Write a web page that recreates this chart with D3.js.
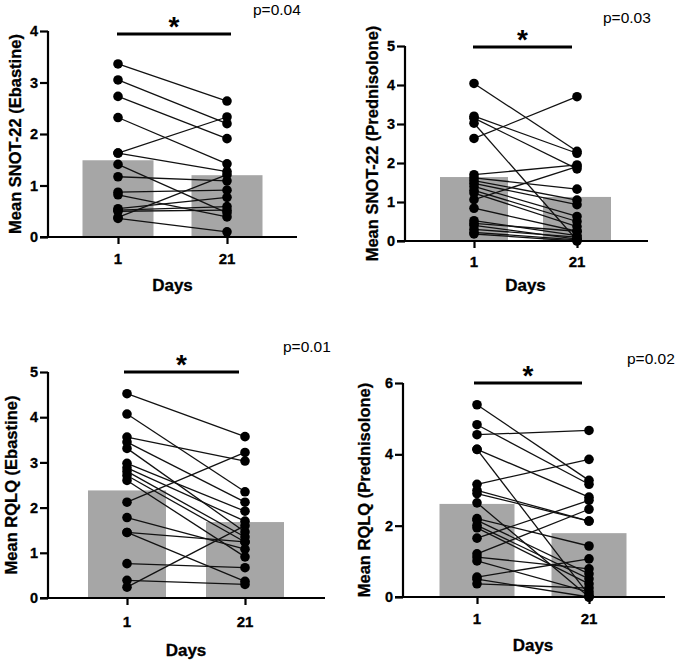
<!DOCTYPE html>
<html>
<head>
<meta charset="utf-8">
<script src="https://cdn.jsdelivr.net/npm/d3@7"></script>
<style>
  body { margin: 0; background: #fff; }
  svg { font-family: "Liberation Sans", Arial, sans-serif; }
</style>
</head>
<body>
<div id="chart"></div>
<script>
const days = ["1", "21"];

// SNOT-22, Ebastine (paired per patient)
const snotEbDay1  = [3.36, 3.05, 2.73, 2.32, 1.63, 1.63, 1.41, 1.17, 0.87, 0.82, 0.55, 0.52, 0.50, 0.38, 0.36];
const snotEbDay21 = [2.64, 2.20, 1.91, 1.42, 2.33, 1.27, 0.47, 1.09, 0.91, 0.39, 0.77, 0.59, 0.52, 1.21, 0.10];
const snotEbMeans = [1.49, 1.20];

// SNOT-22, Prednisolone
const snotPrDay1  = [4.04, 3.20, 3.15, 3.02, 2.63, 1.70, 1.62, 1.55, 1.48, 1.40, 1.30, 1.23, 1.06, 0.84, 0.52, 0.45, 0.40, 0.30, 0.22, 0.18];
const snotPrDay21 = [2.30, 2.25, 1.85, 0.02, 3.70, 1.95, 1.33, 1.05, 0.93, 0.63, 0.50, 0.37, 1.91, 0.25, 0.14, 0.25, 0.05, 0.10, 0.03, 0.00];
const snotPrMeans = [1.64, 1.13];

// RQLQ, Ebastine
const rqlqEbDay1  = [4.52, 4.07, 3.56, 3.45, 3.31, 2.98, 2.88, 2.80, 2.71, 2.60, 2.12, 1.78, 1.45, 1.45, 0.76, 0.39, 0.24];
const rqlqEbDay21 = [3.57, 2.35, 3.03, 2.12, 1.46, 1.92, 1.70, 1.35, 1.24, 0.91, 3.22, 1.08, 1.24, 0.37, 0.67, 0.30, 1.60];
const rqlqEbMeans = [2.38, 1.68];

// RQLQ, Prednisolone
const rqlqPrDay1  = [5.39, 4.83, 4.55, 4.14, 4.14, 3.16, 2.99, 2.90, 2.64, 2.20, 2.15, 2.01, 1.94, 1.65, 1.21, 1.12, 1.01, 0.56, 0.37, 0.50];
const rqlqPrDay21 = [3.27, 3.16, 4.67, 2.80, 0.05, 3.86, 2.13, 2.13, 0.00, 1.43, 0.65, 0.51, 0.37, 2.71, 2.46, 0.79, 0.14, 1.07, 0.25, 0.00];
const rqlqPrMeans = [2.61, 1.79];

const snotEbTicks = [0, 1, 2, 3, 4];
const snotPrTicks = [0, 1, 2, 3, 4, 5];
const rqlqEbTicks = [0, 1, 2, 3, 4, 5];
const rqlqPrTicks = [0, 2, 4, 6];

const yLabels = ["Mean SNOT-22 (Ebastine)", "Mean SNOT-22 (Prednisolone)", "Mean RQLQ (Ebastine)", "Mean RQLQ (Prednisolone)"];
const pLabels = ["p=0.04", "p=0.03", "p=0.01", "p=0.02"];

const svg = d3.select("#chart").append("svg")
    .attr("width", 680)
    .attr("height", 660);

// layout of each panel in page pixels
const panels = [
    {d1: snotEbDay1, d21: snotEbDay21, means: snotEbMeans, ticks: snotEbTicks, max: 4,
     axisX: 48, y0: 237, yTop: 31, cx: [118, 227], barW: 71, xEnd: 297,
     sig: [117, 231, 34], pX: 253, pY: 15, labX: 15, daysY: 291, tickY: 264},
    {d1: snotPrDay1, d21: snotPrDay21, means: snotPrMeans, ticks: snotPrTicks, max: 5,
     axisX: 405, y0: 241, yTop: 46, cx: [474, 577], barW: 68, xEnd: 648,
     sig: [473, 572, 47], pX: 603, pY: 23, labX: 372, daysY: 291, tickY: 267},
    {d1: rqlqEbDay1, d21: rqlqEbDay21, means: rqlqEbMeans, ticks: rqlqEbTicks, max: 5,
     axisX: 48, y0: 598, yTop: 372, cx: [127, 245], barW: 78, xEnd: 325,
     sig: [124, 239, 372], pX: 283, pY: 352, labX: 11, daysY: 656, tickY: 627},
    {d1: rqlqPrDay1, d21: rqlqPrDay21, means: rqlqPrMeans, ticks: rqlqPrTicks, max: 6,
     axisX: 403, y0: 597, yTop: 383, cx: [477, 589], barW: 75, xEnd: 665,
     sig: [474, 582, 383], pX: 627, pY: 364, labX: 364, daysY: 651, tickY: 624}
];

panels.forEach((p, i) => {
    const g = svg.append("g");
    const y = d3.scaleLinear().domain([0, p.max]).range([p.y0, p.yTop]);
    const x = d3.scalePoint().domain(days).range(p.cx);

    // bars (means)
    g.selectAll("rect.bar")
        .data(p.means)
        .join("rect")
        .attr("class", "bar")
        .attr("x", (d, k) => x(days[k]) - p.barW / 2)
        .attr("width", p.barW)
        .attr("y", d => y(d))
        .attr("height", d => y(0) - y(d))
        .attr("fill", "#a6a6a6");

    // paired lines
    const pairs = p.d1.map((v, k) => [v, p.d21[k]]);
    g.selectAll("line.pair")
        .data(pairs)
        .join("line")
        .attr("x1", x("1")).attr("x2", x("21"))
        .attr("y1", d => y(d[0])).attr("y2", d => y(d[1]))
        .attr("stroke", "#111").attr("stroke-width", 1.3);

    // dots
    [p.d1, p.d21].forEach((vals, k) => {
        g.selectAll("circle.d" + k)
            .data(vals)
            .join("circle")
            .attr("class", "d" + k)
            .attr("cx", x(days[k]))
            .attr("cy", d => y(d))
            .attr("r", 4.8)
            .attr("fill", "#000");
    });

    // y axis
    const yAxis = g.append("g")
        .attr("transform", `translate(${p.axisX},0)`)
        .call(d3.axisLeft(y).tickValues(p.ticks).tickFormat(d3.format("d")).tickSize(8).tickPadding(2));
    yAxis.select(".domain").attr("stroke-width", 2.2).attr("d", `M0,${p.yTop}V${p.y0}`);
    yAxis.selectAll(".tick line").attr("stroke-width", 2.2);
    yAxis.selectAll("text").attr("font-size", 14.5).attr("font-weight", "bold").attr("fill", "#000")
        .attr("font-family", "Liberation Sans, Arial, sans-serif")
        .attr("stroke", "#000").attr("stroke-width", 0.3);

    // x axis
    const xAxis = g.append("g")
        .attr("transform", `translate(0,${p.y0})`)
        .call(d3.axisBottom(x).tickSize(7).tickPadding(6));
    xAxis.select(".domain").attr("stroke-width", 2.2).attr("d", `M${p.axisX - 8},0H${p.xEnd}`);
    xAxis.selectAll(".tick line").attr("stroke-width", 2.2);
    xAxis.selectAll("text").remove();
    g.selectAll("text.xt")
        .data(days)
        .join("text")
        .attr("x", d => x(d))
        .attr("y", p.tickY)
        .attr("text-anchor", "middle")
        .attr("font-size", 15).attr("font-weight", "bold")
        .attr("stroke", "#000").attr("stroke-width", 0.3)
        .text(d => d);

    // axis titles
    g.append("text")
        .attr("x", (p.cx[0] + p.cx[1]) / 2)
        .attr("y", p.daysY)
        .attr("text-anchor", "middle")
        .attr("font-size", 17).attr("font-weight", "bold")
        .attr("stroke", "#000").attr("stroke-width", 0.3)
        .text("Days");

    g.append("text")
        .attr("transform", `translate(${p.labX},${(p.yTop + p.y0) / 2}) rotate(-90)`)
        .attr("text-anchor", "middle")
        .attr("dominant-baseline", "central")
        .attr("font-size", 16.5).attr("font-weight", "bold")
        .attr("stroke", "#000").attr("stroke-width", 0.3)
        .text(yLabels[i]);

    // significance bar
    g.append("line")
        .attr("x1", p.sig[0]).attr("x2", p.sig[1])
        .attr("y1", p.sig[2]).attr("y2", p.sig[2])
        .attr("stroke", "#000").attr("stroke-width", 3);
    g.append("text")
        .attr("x", (p.sig[0] + p.sig[1]) / 2)
        .attr("y", p.sig[2] + 2)
        .attr("text-anchor", "middle")
        .attr("font-size", 28).attr("font-weight", "bold")
        .text("*");

    g.append("text")
        .attr("x", p.pX)
        .attr("y", p.pY)
        .attr("font-size", 15.5)
        .text(pLabels[i]);
});
</script>
</body>
</html>
